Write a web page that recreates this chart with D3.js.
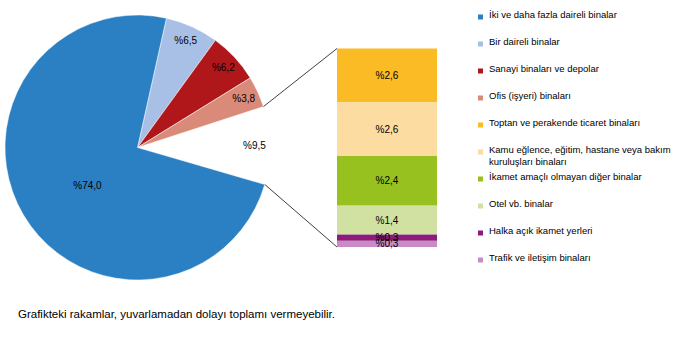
<!DOCTYPE html>
<html>
<head>
<meta charset="utf-8">
<script src="https://cdn.jsdelivr.net/npm/d3@7"></script>
<style>
  body { margin: 0; background: #fff; }
  text { font-family: "Liberation Sans", Arial, sans-serif; fill: #000; }
</style>
</head>
<body>
<div id="chart"></div>
<script>
// pie part (the "other" share is left empty and broken out into the bar)
const pieNames = ["Bir daireli binalar", "Sanayi binaları ve depolar", "Ofis (işyeri) binaları", "Diğer", "İki ve daha fazla daireli binalar"];
const pieValues = [6.5, 6.2, 3.8, 9.5, 74.0];
const pieLabels = ["%6,5", "%6,2", "%3,8", "%9,5", "%74,0"];
const pieColors = ["#a9c0e6", "#b0171b", "#d98a78", "none", "#2b80c4"];

// bar part (top to bottom)
const barValues = [2.6, 2.6, 2.4, 1.4, 0.3, 0.3];
const barLabels = ["%2,6", "%2,6", "%2,4", "%1,4", "%0,3", "%0,3"];
const barColors = ["#fbbb24", "#fddca2", "#96c11f", "#d0e1a1", "#8e1b7c", "#c98bc5"];

const legendNames = [
  ["İki ve daha fazla daireli binalar"],
  ["Bir daireli binalar"],
  ["Sanayi binaları ve depolar"],
  ["Ofis (işyeri) binaları"],
  ["Toptan ve perakende ticaret binaları"],
  ["Kamu eğlence, eğitim, hastane veya bakım", "kuruluşları binaları"],
  ["İkamet amaçlı olmayan diğer binalar"],
  ["Otel vb. binalar"],
  ["Halka açık ikamet yerleri"],
  ["Trafik ve iletişim binaları"]
];
const legendColors = ["#2b80c4", "#a9c0e6", "#b0171b", "#d98a78", "#fbbb24", "#fddca2", "#96c11f", "#d0e1a1", "#8e1b7c", "#c98bc5"];

const width = 673, height = 354;
const cx = 137.5, cy = 147.5, R = 132.5;

const svg = d3.select("#chart").append("svg")
  .attr("width", width)
  .attr("height", height);

// pie
const a0 = 12.6 * Math.PI / 180;
const pie = d3.pie().sort(null).startAngle(a0).endAngle(a0 + 2 * Math.PI);
const arcs = pie(pieValues);
const arc = d3.arc().innerRadius(0).outerRadius(R);

const gPie = svg.append("g").attr("transform", `translate(${cx},${cy})`);

gPie.selectAll("path")
  .data(arcs)
  .enter()
  .append("path")
  .attr("d", arc)
  .attr("fill", (d, i) => pieColors[i])
  .attr("stroke", "#fff")
  .attr("stroke-width", 0.5)
  .style("display", (d, i) => pieColors[i] == "none" ? "none" : null);

// label radius, and for the big slice a small turn toward the bottom-left
gPie.selectAll("text")
  .data(arcs)
  .enter()
  .append("text")
  .attr("transform", function (d, i) {
    const r = i == 4 ? 63 : 117;
    const shift = i == 4 ? -0.12 : 0;
    const c = d3.arc().innerRadius(r).outerRadius(r)
      .centroid({ startAngle: d.startAngle + shift, endAngle: d.endAngle + shift });
    return `translate(${c[0]},${c[1]})`;
  })
  .attr("text-anchor", "middle")
  .attr("dy", "0.35em")
  .style("font-size", "10px")
  .text((d, i) => pieLabels[i]);

// bar
const barX = 337, barW = 100;
const total = d3.sum(barValues);
const y = d3.scaleLinear().domain([0, total]).range([48.5, 247]);
let acc = 0;
const stack = barValues.map(v => { const s = { y0: acc, y1: acc + v }; acc += v; return s; });

svg.selectAll("rect.bar")
  .data(stack)
  .enter()
  .append("rect")
  .attr("class", "bar")
  .attr("x", barX)
  .attr("width", barW)
  .attr("y", d => y(d.y0))
  .attr("height", d => y(d.y1) - y(d.y0))
  .attr("fill", (d, i) => barColors[i]);

svg.selectAll("text.bar")
  .data(stack)
  .enter()
  .append("text")
  .attr("class", "bar")
  .attr("x", barX + barW / 2)
  .attr("y", d => (y(d.y0) + y(d.y1)) / 2)
  .attr("dy", "0.35em")
  .attr("text-anchor", "middle")
  .style("font-size", "10px")
  .text((d, i) => barLabels[i]);

// connector lines from the "other" slice edges to the bar corners
const other = arcs[3];
const pt = a => [cx + R * Math.sin(a), cy - R * Math.cos(a)];
const pTop = pt(other.startAngle), pBot = pt(other.endAngle);
svg.append("line")
  .attr("x1", pTop[0]).attr("y1", pTop[1])
  .attr("x2", barX).attr("y2", y(0))
  .attr("stroke", "#000").attr("stroke-width", 0.75);
svg.append("line")
  .attr("x1", pBot[0]).attr("y1", pBot[1])
  .attr("x2", barX).attr("y2", y(total))
  .attr("stroke", "#000").attr("stroke-width", 0.75);

// legend
const legend = svg.selectAll("g.leg")
  .data(legendNames)
  .enter()
  .append("g")
  .attr("class", "leg")
  .attr("transform", (d, i) => `translate(478,${17.5 + i * 27})`);

legend.append("rect")
  .attr("x", 0).attr("y", -3)
  .attr("width", 5).attr("height", 5)
  .attr("fill", (d, i) => legendColors[i]);

legend.append("text")
  .attr("x", 11)
  .attr("dy", "0.35em")
  .style("font-size", "9.5px")
  .selectAll("tspan")
  .data(d => d)
  .enter()
  .append("tspan")
  .attr("x", 11)
  .attr("dy", (d, i) => i == 0 ? 0 : 12.5)
  .text(d => d);

// footnote
svg.append("text")
  .attr("x", 18)
  .attr("y", 318)
  .style("font-size", "11.5px")
  .text("Grafikteki rakamlar, yuvarlamadan dolayı toplamı vermeyebilir.");
</script>
</body>
</html>
